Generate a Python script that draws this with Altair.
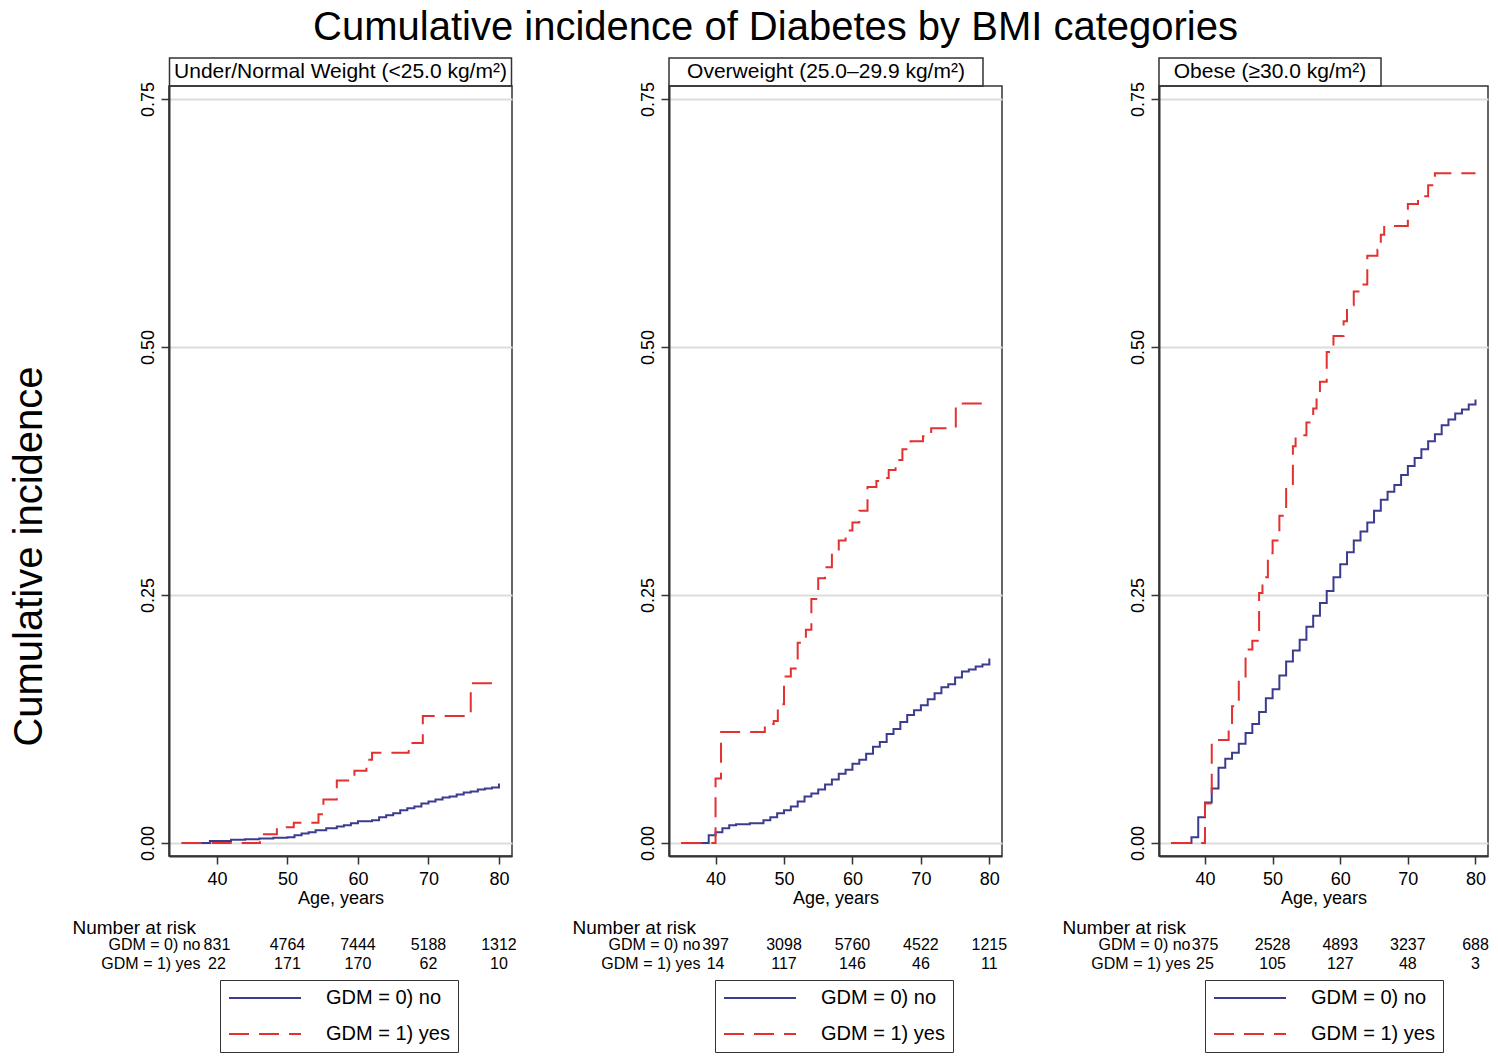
import altair as alt
import pandas as pd

TITLE = "Cumulative incidence of Diabetes by BMI categories"
Y_TITLE = "Cumulative incidence"
X_TITLE = "Age, years"
RISK_TITLE = "Number at risk"
PANEL_TITLES = ["Under/Normal Weight (<25.0 kg/m²)", "Overweight (25.0–29.9 kg/m²)", "Obese (≥30.0 kg/m²)"]
GROUPS = ["GDM = 0) no", "GDM = 1) yes"]
X_TICKS = [40, 50, 60, 70, 80]
Y_TICKS = [0, 0.25, 0.5, 0.75]

RISK_AGES = [40, 50, 60, 70, 80]
P1_RISK_NO = [831, 4764, 7444, 5188, 1312]
P1_RISK_YES = [22, 171, 170, 62, 10]
P2_RISK_NO = [397, 3098, 5760, 4522, 1215]
P2_RISK_YES = [14, 117, 146, 46, 11]
P3_RISK_NO = [375, 2528, 4893, 3237, 688]
P3_RISK_YES = [25, 105, 127, 48, 3]

P1_NO_AGE = [35, 39, 42, 44, 46, 48, 50, 51, 52, 53, 54, 55.5, 57, 58, 59, 60, 62, 63, 64, 65, 66, 67, 68, 69, 70, 71, 72, 73, 74, 75, 76, 77, 78, 79, 80]
P1_NO_CI = [0, 0.002, 0.0034, 0.004, 0.0047, 0.0053, 0.006, 0.008, 0.0098, 0.011, 0.013, 0.015, 0.0168, 0.018, 0.020, 0.022, 0.023, 0.026, 0.028, 0.030, 0.033, 0.035, 0.037, 0.040, 0.042, 0.044, 0.046, 0.047, 0.049, 0.051, 0.052, 0.054, 0.055, 0.056, 0.060]
P1_YES_AGE = [35, 46.1, 48.5, 50.9, 54.4, 55.1, 57, 59.5, 61.2, 62, 67.2, 69.2, 76, 80]
P1_YES_CI = [0, 0.0088, 0.016, 0.0205, 0.029, 0.044, 0.063, 0.073, 0.084, 0.091, 0.101, 0.128, 0.161, 0.161]

P2_NO_AGE = [35, 39, 40, 41, 42, 43, 45, 47, 48, 49, 50, 51, 52, 53, 54, 55, 56, 57, 58, 59, 60, 61, 62, 63, 64, 65, 66, 67, 68, 69, 70, 71, 72, 73, 74, 75, 76, 77, 78, 79, 80]
P2_NO_CI = [0, 0.008, 0.011, 0.015, 0.018, 0.019, 0.020, 0.023, 0.026, 0.030, 0.033, 0.037, 0.042, 0.047, 0.050, 0.054, 0.059, 0.064, 0.070, 0.074, 0.080, 0.084, 0.090, 0.097, 0.102, 0.110, 0.115, 0.122, 0.129, 0.134, 0.139, 0.145, 0.151, 0.157, 0.160, 0.167, 0.173, 0.175, 0.178, 0.180, 0.186]
P2_YES_AGE = [35, 40, 40.8, 47.2, 48.5, 49.1, 50, 51, 52, 53.2, 54, 55, 56, 57, 58, 59, 60, 61, 62.2, 63.5, 64.2, 65.3, 66.3, 67.3, 68.5, 70.3, 71.5, 75.1, 80]
P2_YES_CI = [0, 0.065, 0.112, 0.120, 0.123, 0.140, 0.168, 0.176, 0.202, 0.215, 0.246, 0.267, 0.278, 0.293, 0.305, 0.315, 0.323, 0.335, 0.359, 0.365, 0.368, 0.376, 0.386, 0.397, 0.405, 0.410, 0.418, 0.443, 0.443]

P3_NO_AGE = [35, 38, 39, 40, 41, 42, 43, 44, 45, 46, 47, 48, 49, 50, 51, 52, 53, 54, 55, 56, 57, 58, 59, 60, 61, 62, 63, 64, 65, 66, 67, 68, 69, 70, 71, 72, 73, 74, 75, 76, 77, 78, 79, 80]
P3_NO_CI = [0, 0.006, 0.026, 0.041, 0.055, 0.076, 0.085, 0.091, 0.100, 0.111, 0.120, 0.132, 0.146, 0.155, 0.169, 0.183, 0.194, 0.205, 0.218, 0.229, 0.242, 0.254, 0.268, 0.281, 0.293, 0.305, 0.314, 0.323, 0.335, 0.346, 0.354, 0.361, 0.371, 0.380, 0.388, 0.397, 0.405, 0.412, 0.421, 0.427, 0.433, 0.437, 0.442, 0.447]
P3_YES_AGE = [35, 40, 41, 43.5, 44, 45, 46, 47, 48, 48.5, 49.3, 50, 51, 52, 53, 53.4, 55, 56, 56.5, 57, 58, 59, 60.5, 61, 62, 63, 64, 65.5, 66, 66.5, 70, 71.5, 73, 74, 80]
P3_YES_CI = [0, 0.040, 0.104, 0.121, 0.138, 0.166, 0.195, 0.204, 0.252, 0.268, 0.292, 0.305, 0.330, 0.362, 0.400, 0.411, 0.424, 0.438, 0.453, 0.465, 0.495, 0.511, 0.526, 0.542, 0.556, 0.563, 0.592, 0.598, 0.613, 0.622, 0.644, 0.652, 0.663, 0.675, 0.675]

BLUE = "#3b3b8f"
RED = "#e3312f"
FRAME = "#333333"
FONT = "Liberation Sans"
X_DOMAIN = [33.2, 81.85]
Y_DOMAIN = [-0.013, 0.763]
ROW_DOMAIN = [-4.684, 1.5]


def curve_df(no_age, no_ci, yes_age, yes_ci):
    rows = [{"age": a, "ci": c, "grp": GROUPS[0]} for a, c in zip(no_age, no_ci)]
    rows += [{"age": a, "ci": c, "grp": GROUPS[1]} for a, c in zip(yes_age, yes_ci)]
    return pd.DataFrame(rows)


def risk_df(no, yes):
    rows = [{"age": a, "n": n, "row": 0} for a, n in zip(RISK_AGES, no)]
    rows += [{"age": a, "n": n, "row": 1} for a, n in zip(RISK_AGES, yes)]
    return pd.DataFrame(rows)


def main_chart(df, width, first, legend_x):
    common = dict(values=Y_TICKS, format=".2f", labelAngle=270, labelAlign="center",
                  labelBaseline="bottom", labelFontSize=18, labelPadding=4, tickSize=8,
                  tickWidth=1.5, domainWidth=2, grid=True, gridColor="#dcdcdc", gridWidth=2)
    if first:
        y_axis = alt.Axis(title=Y_TITLE, titleFontSize=40, titleFontWeight="normal", titleAngle=270,
                          titleX=-128, titleY=470, titleAlign="center", titleBaseline="alphabetic",
                          **common)
    else:
        y_axis = alt.Axis(title=None, **common)
    x_axis = alt.Axis(values=X_TICKS, labelFontSize=18, labelPadding=6, tickSize=8, tickWidth=1.5,
                      domainWidth=2, grid=False, title=X_TITLE, titleFontSize=18,
                      titleFontWeight="normal", titlePadding=1, labelFlush=False)
    legend = alt.Legend(orient="none", legendX=legend_x, legendY=894, direction="vertical",
                        strokeColor=FRAME, fillColor="white", padding=8, symbolType="M-1,0H7",
                        symbolSize=324, symbolStrokeWidth=2, labelFontSize=20, labelOffset=78,
                        rowPadding=16, labelColor="black", labelLimit=300)
    return alt.Chart(df).mark_line(interpolate="step-after", strokeWidth=2).encode(
        x=alt.X("age:Q", scale=alt.Scale(domain=X_DOMAIN, nice=False, zero=False), axis=x_axis),
        y=alt.Y("ci:Q", scale=alt.Scale(domain=Y_DOMAIN, nice=False, zero=False), axis=y_axis),
        color=alt.Color("grp:N", scale=alt.Scale(domain=GROUPS, range=[BLUE, RED]), legend=legend, title=None),
        strokeDash=alt.StrokeDash("grp:N", scale=alt.Scale(domain=GROUPS, range=[[1, 0], [20, 10]]),
                                  legend=legend, title=None),
    ).properties(width=width, height=770)


def table_chart(df, width):
    label_expr = f"datum.value == 0 ? '{GROUPS[0]}' : '{GROUPS[1]}'"
    return alt.Chart(df).mark_text(fontSize=16, color="black").encode(
        x=alt.X("age:Q", scale=alt.Scale(domain=X_DOMAIN, nice=False, zero=False), axis=None),
        y=alt.Y("row:Q", scale=alt.Scale(domain=ROW_DOMAIN, nice=False, zero=False, reverse=True),
                axis=alt.Axis(values=[0, 1], labelExpr=label_expr, domain=False, ticks=False,
                              tickSize=0, labelPadding=0, offset=-31, labelFontSize=16,
                              labelColor="black", labelAlign="right", labelBaseline="middle",
                              grid=False, labelFlush=False,
                              title=RISK_TITLE, titleAngle=0, titleAlign="left",
                              titleBaseline="alphabetic", titleX=-128, titleY=77,
                              titleFontSize=19, titleFontWeight="normal")),
        text=alt.Text("n:Q", format="d"),
    ).properties(width=width, height=117.5, view=alt.ViewConfig(strokeOpacity=0))


def box_chart(label, width):
    return alt.Chart(pd.DataFrame({"label": [label]})).mark_text(
        fontSize=21, color="black", align="center", baseline="middle"
    ).encode(
        x=alt.X("label:N", axis=None),
        y=alt.Y("label:N", axis=None),
        text="label:N",
    ).properties(width=width, height=28)


specs = [
    (curve_df(P1_NO_AGE, P1_NO_CI, P1_YES_AGE, P1_YES_CI), risk_df(P1_RISK_NO, P1_RISK_YES), 343, 342, 51),
    (curve_df(P2_NO_AGE, P2_NO_CI, P2_YES_AGE, P2_YES_CI), risk_df(P2_RISK_NO, P2_RISK_YES), 333, 314, 46),
    (curve_df(P3_NO_AGE, P3_NO_CI, P3_YES_AGE, P3_YES_CI), risk_df(P3_RISK_NO, P3_RISK_YES), 329, 222, 46),
]
boxes = [box_chart(PANEL_TITLES[i], s[3]) for i, s in enumerate(specs)]
mains = [main_chart(s[0], s[2], i == 0, s[4]) for i, s in enumerate(specs)]
tables = [table_chart(s[1], s[2]) for s in specs]

chart = alt.concat(
    *boxes, *mains, *tables,
    columns=3, bounds="flush", align="each", center=True,
    spacing=alt.RowColnumber(row=0, column=157),
).resolve_scale(
    color="independent", strokeDash="independent"
).properties(
    title=alt.TitleParams(TITLE, fontSize=40, fontWeight="normal", anchor="middle",
                          offset=9, dx=27, color="black"),
    padding=0,
).configure(font=FONT, background="white").configure_view(
    stroke=FRAME, strokeWidth=1.5
).configure_axis(
    labelColor="black", titleColor="black", domainColor=FRAME, tickColor=FRAME
)

chart.save("out.html", embed_options={"renderer": "svg", "actions": False})
